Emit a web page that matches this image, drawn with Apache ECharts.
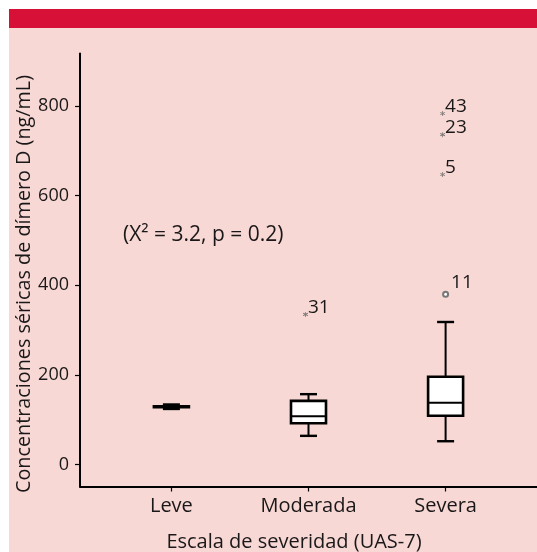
<!DOCTYPE html>
<html><head><meta charset="utf-8">
<script src="https://cdn.jsdelivr.net/npm/echarts@6/dist/echarts.min.js"></script>
<style>html,body{margin:0;padding:0;background:#fff;}#c{width:537px;height:552px;}</style>
</head><body><div id="c"></div>
<script>
var categories = ['Leve', 'Moderada', 'Severa'];
// [min, Q1, median, Q3, max]
var boxLeve = [124, 128, 129, 130, 134];
var boxModerada = [64, 92, 108, 142, 157];
var boxSevera = [52, 109, 138, 196, 318];
var yTicks = [0, 200, 400, 600, 800];
// extremes (asterisk): [categoryIndex, value, case id]
var extremes = [[1, 335, '31'], [2, 783, '43'], [2, 736, '23'], [2, 647, '5']];
// outliers (circle)
var outliers = [[2, 380, '11']];
var statText = '(X\u00B2 = 3.2, p = 0.2)';

var FONT = '"Open Sans", sans-serif';
var TXT = '#1a1718';
var boxes = [boxLeve, boxModerada, boxSevera];
var boxData = boxes.map(function (b, i) { return [i + 1].concat(b); });

var asterisk = 'path://M-0.6,-5L0.6,-5L0.6,5L-0.6,5Z M-4.63,-1.98L4.03,3.02L4.63,1.98L-4.03,-3.02Z M4.63,-1.98L-4.03,3.02L-4.63,1.98L4.03,-3.02Z';

var chart = echarts.init(document.getElementById('c'));
chart.setOption({
  animation: false,
  backgroundColor: 'transparent',
  graphic: [
    { type: 'rect', z: -100, silent: true, shape: { x: 9, y: 9, width: 528, height: 19 }, style: { fill: '#d71038' } },
    { type: 'rect', z: -100, silent: true, shape: { x: 9, y: 28, width: 528, height: 524 }, style: { fill: '#f7d8d4' } },
    { type: 'text', left: 123, top: 225, style: { text: statText, font: '21px ' + FONT, fill: TXT } }
  ],
  grid: { left: 80, right: 0, top: 53.5, bottom: 65.5, containLabel: false, outerBoundsMode: 'none' },
  xAxis: {
    type: 'value', min: 1 / 3, max: 3 + 2 / 3,
    splitLine: { show: false },
    axisLine: { show: true, onZero: false, lineStyle: { color: '#000', width: 2 } },
    axisTick: { show: true, customValues: [1, 2, 3], length: 5, lineStyle: { color: '#000', width: 1.2 } },
    axisLabel: {
      customValues: [1, 2, 3], margin: 10, color: TXT, fontSize: 20, fontFamily: FONT,
      formatter: function (v) { return categories[Math.round(v) - 1] || ''; }
    },
    name: 'Escala de severidad (UAS-7)', nameLocation: 'middle', nameGap: 46,
    nameTextStyle: { color: TXT, fontSize: 20, fontFamily: FONT, padding: [0, 29, 0, 0] }
  },
  yAxis: {
    type: 'value', min: -49, max: 917,
    splitLine: { show: false },
    axisLine: { show: true, onZero: false, lineStyle: { color: '#000', width: 2 } },
    axisTick: { show: true, customValues: yTicks, length: 5, lineStyle: { color: '#000', width: 1.2 } },
    axisLabel: { customValues: yTicks, margin: 11, color: TXT, fontSize: 18, fontFamily: FONT },
    name: 'Concentraciones séricas de dímero D (ng/mL)', nameLocation: 'middle', nameGap: 46,
    nameMoveOverlap: false,
    nameTextStyle: { color: TXT, fontSize: 19.8, fontFamily: FONT, padding: [0, 28, 0, 0] }
  },
  series: [
    {
      type: 'custom',
      data: boxData,
      encode: { x: 0, y: [1, 2, 3, 4, 5] },
      renderItem: function (params, api) {
        var x = api.value(0);
        var pMin = api.coord([x, api.value(1)]);
        var pQ1 = api.coord([x, api.value(2)]);
        var pMed = api.coord([x, api.value(3)]);
        var pQ3 = api.coord([x, api.value(4)]);
        var pMax = api.coord([x, api.value(5)]);
        var cx = pMin[0];
        var bw = 35, cw = 17;
        var ls = { stroke: '#000', lineWidth: 2 };
        return {
          type: 'group',
          children: [
            { type: 'line', shape: { x1: cx, y1: pMax[1], x2: cx, y2: pQ3[1] }, style: ls },
            { type: 'line', shape: { x1: cx, y1: pMin[1], x2: cx, y2: pQ1[1] }, style: ls },
            { type: 'line', shape: { x1: cx - cw / 2, y1: pMax[1], x2: cx + cw / 2, y2: pMax[1] }, style: { stroke: '#000', lineWidth: 2.4 } },
            { type: 'line', shape: { x1: cx - cw / 2, y1: pMin[1], x2: cx + cw / 2, y2: pMin[1] }, style: { stroke: '#000', lineWidth: 2.4 } },
            { type: 'rect', shape: { x: cx - bw / 2, y: pQ3[1], width: bw, height: pQ1[1] - pQ3[1] }, style: { fill: '#fff', stroke: '#000', lineWidth: 2.6 } },
            { type: 'line', shape: { x1: cx - bw / 2, y1: pMed[1], x2: cx + bw / 2, y2: pMed[1] }, style: { stroke: '#000', lineWidth: 2 } }
          ]
        };
      },
      z: 3
    },
    {
      type: 'scatter',
      data: extremes.map(function (d) { return [d[0] + 1, d[1], d[2]]; }),
      symbol: asterisk, symbolSize: 5, symbolOffset: [-3, 0],
      itemStyle: { color: '#666', opacity: 1 },
      label: {
        show: true, position: 'right', distance: 0, offset: [0, -7],
        formatter: function (p) { return p.value[2]; },
        color: TXT, opacity: 1, fontSize: 19, fontFamily: FONT
      },
      z: 4
    },
    {
      type: 'scatter',
      data: outliers.map(function (d) { return [d[0] + 1, d[1], d[2]]; }),
      symbol: 'emptyCircle', symbolSize: 5,
      itemStyle: { color: '#777', borderWidth: 0.8, opacity: 1 },
      label: {
        show: true, position: 'right', distance: 2, offset: [0, -12],
        formatter: function (p) { return p.value[2]; },
        color: TXT, opacity: 1, fontSize: 19, fontFamily: FONT
      },
      z: 4
    }
  ]
});
</script></body></html>
